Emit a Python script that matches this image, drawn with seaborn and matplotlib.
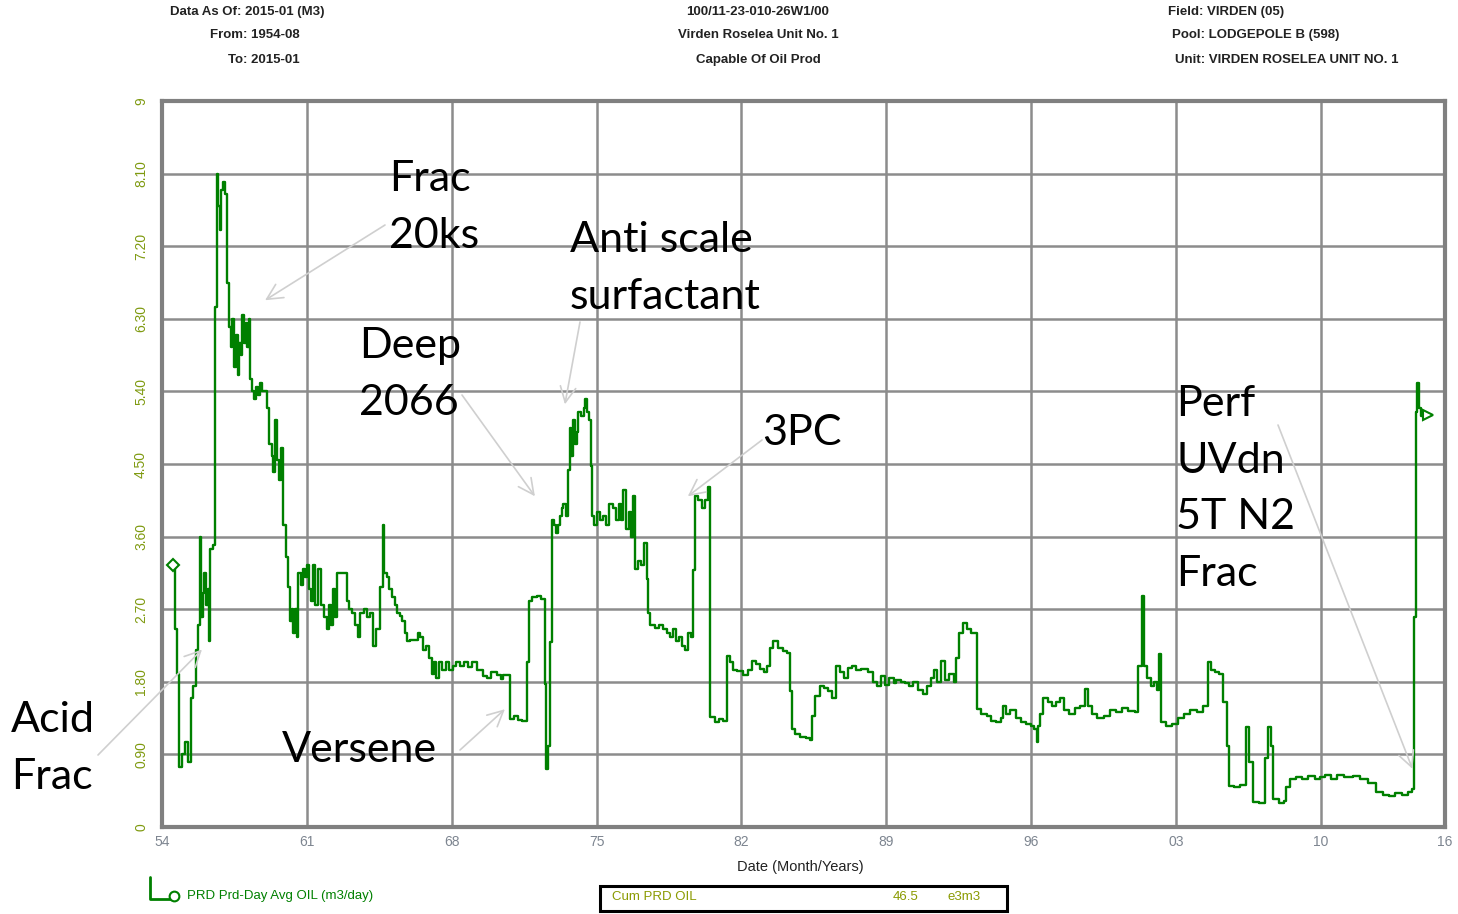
import matplotlib
matplotlib.use('Agg')

import numpy as np
import pandas as pd
import matplotlib.pyplot as plt
import seaborn as sns
from matplotlib.patches import Rectangle
from matplotlib.lines import Line2D

# production history (decimal year, m3/day), step changes
prod_years = [
    1954.55, 1954.63, 1954.72, 1954.80, 1954.95, 1955.10, 1955.25, 1955.40, 1955.51, 1955.62,
    1955.72, 1955.84, 1955.90, 1955.98, 1956.05, 1956.12, 1956.20, 1956.27, 1956.33, 1956.45,
    1956.56, 1956.64, 1956.72, 1956.80, 1956.86, 1956.95, 1957.03, 1957.12, 1957.25, 1957.33,
    1957.40, 1957.48, 1957.56, 1957.65, 1957.72, 1957.80, 1957.88, 1957.95, 1958.05, 1958.12,
    1958.20, 1958.25, 1958.35, 1958.45, 1958.55, 1958.65, 1958.75, 1958.85, 1959.06, 1959.15,
    1959.30, 1959.38, 1959.46, 1959.55, 1959.65, 1959.75, 1959.86, 1960.00, 1960.10, 1960.18,
    1960.28, 1960.35, 1960.45, 1960.52, 1960.59, 1960.70, 1960.80, 1960.90, 1961.00, 1961.10,
    1961.20, 1961.30, 1961.40, 1961.55, 1961.70, 1961.85, 1961.96, 1962.05, 1962.15, 1962.25,
    1962.35, 1962.45, 1962.80, 1962.92, 1963.05, 1963.20, 1963.35, 1963.45, 1963.57, 1963.75,
    1963.90, 1964.05, 1964.20, 1964.35, 1964.53, 1964.66, 1964.72, 1964.85, 1964.95, 1965.10,
    1965.25, 1965.34, 1965.50, 1965.60, 1965.74, 1965.85, 1966.00, 1966.20, 1966.35, 1966.46,
    1966.60, 1966.75, 1966.90, 1967.03, 1967.15, 1967.25, 1967.40, 1967.55, 1967.70, 1967.85,
    1968.07, 1968.20, 1968.40, 1968.60, 1968.80, 1969.00, 1969.20, 1969.36, 1969.50, 1969.70,
    1969.90, 1970.20, 1970.40, 1970.49, 1970.81, 1971.00, 1971.20, 1971.40, 1971.62, 1971.75,
    1971.90, 1972.10, 1972.30, 1972.50, 1972.58, 1972.65, 1972.74, 1972.84, 1972.95, 1973.05,
    1973.15, 1973.25, 1973.31, 1973.40, 1973.52, 1973.63, 1973.70, 1973.78, 1973.85, 1973.95,
    1974.05, 1974.11, 1974.25, 1974.38, 1974.45, 1974.52, 1974.62, 1974.71, 1974.78, 1974.90,
    1975.00, 1975.15, 1975.32, 1975.45, 1975.60, 1975.80, 1975.95, 1976.10, 1976.20, 1976.29,
    1976.40, 1976.55, 1976.65, 1976.75, 1976.85, 1977.00, 1977.15, 1977.30, 1977.42, 1977.50,
    1977.60, 1977.80, 1978.00, 1978.20, 1978.38, 1978.55, 1978.70, 1978.85, 1979.00, 1979.15,
    1979.27, 1979.40, 1979.55, 1979.64, 1979.75, 1979.90, 1980.10, 1980.25, 1980.39, 1980.47,
    1980.70, 1980.90, 1981.10, 1981.31, 1981.45, 1981.60, 1981.80, 1982.08, 1982.30, 1982.50,
    1982.70, 1982.90, 1983.10, 1983.25, 1983.37, 1983.55, 1983.75, 1984.00, 1984.20, 1984.34,
    1984.45, 1984.60, 1984.85, 1985.10, 1985.30, 1985.39, 1985.55, 1985.80, 1986.00, 1986.20,
    1986.40, 1986.59, 1986.75, 1986.95, 1987.15, 1987.35, 1987.55, 1987.80, 1988.10, 1988.36,
    1988.55, 1988.75, 1988.95, 1989.15, 1989.35, 1989.49, 1989.70, 1989.90, 1990.10, 1990.30,
    1990.55, 1990.78, 1990.95, 1991.15, 1991.30, 1991.45, 1991.65, 1991.85, 1992.05, 1992.25,
    1992.39, 1992.50, 1992.71, 1992.90, 1993.10, 1993.39, 1993.60, 1993.85, 1994.05, 1994.30,
    1994.55, 1994.64, 1994.80, 1995.00, 1995.25, 1995.50, 1995.75, 1996.00, 1996.15, 1996.26,
    1996.35, 1996.45, 1996.57, 1996.80, 1997.00, 1997.20, 1997.40, 1997.60, 1997.85, 1998.10,
    1998.35, 1998.59, 1998.75, 1998.95, 1999.20, 1999.50, 1999.80, 2000.10, 2000.40, 2000.70,
    2001.00, 2001.17, 2001.35, 2001.45, 2001.60, 2001.80, 2001.95, 2002.10, 2002.18, 2002.29,
    2002.50, 2002.80, 2003.10, 2003.40, 2003.70, 2004.00, 2004.30, 2004.55, 2004.70, 2004.90,
    2005.10, 2005.27, 2005.46, 2005.56, 2005.80, 2006.10, 2006.37, 2006.55, 2006.72, 2007.00,
    2007.29, 2007.45, 2007.58, 2007.69, 2008.00, 2008.20, 2008.33, 2008.50, 2008.80, 2009.10,
    2009.40, 2009.70, 2009.94, 2010.20, 2010.50, 2010.80, 2011.10, 2011.55, 2011.90, 2012.30,
    2012.68, 2013.00, 2013.30, 2013.60, 2013.90, 2014.20, 2014.42, 2014.48, 2014.61, 2014.66,
    2014.72, 2014.85, 2015.08,
]
prod_rate = [
    3.25, 2.45, 1.90, 0.75, 0.90, 1.05, 0.80, 1.60, 1.75, 2.20,
    2.50, 3.60, 2.60, 2.90, 3.15, 2.75, 2.95, 2.30, 3.45, 3.50,
    6.45, 8.10, 7.70, 7.40, 7.90, 8.00, 7.85, 6.75, 6.20, 5.95,
    6.30, 5.70, 6.10, 5.60, 6.00, 5.85, 6.35, 6.00, 6.25, 5.95,
    6.30, 5.55, 5.40, 5.30, 5.45, 5.35, 5.50, 5.40, 5.20, 4.75,
    4.60, 4.40, 5.05, 4.55, 4.30, 4.70, 3.75, 3.35, 2.98, 2.55,
    2.70, 2.40, 2.70, 2.35, 3.15, 3.00, 3.20, 3.10, 3.25, 2.95,
    2.80, 3.25, 2.75, 3.20, 2.75, 2.60, 2.45, 2.75, 2.50, 2.95,
    2.60, 3.15, 3.15, 2.80, 2.70, 2.65, 2.50, 2.35, 2.65, 2.70,
    2.60, 2.65, 2.25, 2.45, 2.98, 3.75, 3.15, 3.10, 2.95, 2.85,
    2.75, 2.65, 2.62, 2.55, 2.40, 2.30, 2.32, 2.32, 2.40, 2.36,
    2.20, 2.25, 2.10, 1.90, 2.05, 1.85, 2.05, 1.95, 2.05, 1.95,
    2.00, 2.05, 2.00, 2.05, 1.98, 2.05, 1.95, 1.95, 1.87, 1.85,
    1.92, 1.88, 1.83, 1.88, 1.34, 1.37, 1.33, 1.31, 2.04, 2.80,
    2.85, 2.86, 2.83, 1.77, 0.72, 1.00, 2.29, 3.81, 3.75, 3.65,
    3.75, 3.85, 3.95, 4.00, 3.85, 4.43, 4.95, 4.60, 5.05, 4.75,
    4.90, 5.15, 5.10, 5.20, 5.30, 5.15, 5.05, 4.47, 3.85, 3.75,
    3.90, 3.80, 3.85, 3.75, 4.00, 3.95, 3.80, 4.00, 3.80, 4.18,
    3.70, 3.90, 3.60, 4.10, 3.20, 3.30, 3.25, 3.52, 3.07, 2.65,
    2.50, 2.47, 2.50, 2.45, 2.40, 2.35, 2.45, 2.30, 2.35, 2.25,
    2.20, 2.40, 2.35, 3.19, 4.10, 4.05, 3.95, 4.05, 4.22, 1.36,
    1.30, 1.34, 1.32, 2.12, 2.05, 1.95, 1.93, 1.88, 1.95, 2.06,
    2.02, 1.96, 1.92, 2.00, 2.22, 2.30, 2.22, 2.18, 2.16, 1.68,
    1.21, 1.15, 1.12, 1.10, 1.08, 1.37, 1.62, 1.75, 1.72, 1.68,
    1.60, 2.00, 1.92, 1.85, 1.97, 2.00, 1.95, 1.96, 1.92, 1.80,
    1.75, 1.87, 1.76, 1.85, 1.78, 1.82, 1.80, 1.78, 1.75, 1.80,
    1.70, 1.65, 1.75, 1.85, 1.95, 1.80, 2.06, 1.82, 1.90, 1.80,
    2.10, 2.41, 2.53, 2.45, 2.41, 1.46, 1.40, 1.38, 1.32, 1.30,
    1.35, 1.50, 1.40, 1.45, 1.35, 1.30, 1.28, 1.25, 1.22, 1.05,
    1.25, 1.40, 1.60, 1.55, 1.50, 1.55, 1.60, 1.45, 1.40, 1.48,
    1.50, 1.71, 1.50, 1.40, 1.35, 1.38, 1.45, 1.42, 1.47, 1.44,
    1.42, 2.00, 2.86, 2.00, 1.85, 1.75, 1.80, 1.70, 2.14, 1.30,
    1.25, 1.28, 1.35, 1.40, 1.45, 1.42, 1.50, 2.04, 1.95, 1.92,
    1.90, 1.55, 1.00, 0.51, 0.50, 0.52, 1.24, 0.80, 0.31, 0.30,
    0.85, 1.24, 1.00, 0.35, 0.30, 0.32, 0.50, 0.60, 0.62, 0.60,
    0.63, 0.60, 0.62, 0.64, 0.60, 0.65, 0.62, 0.63, 0.60, 0.55,
    0.43, 0.40, 0.38, 0.42, 0.40, 0.43, 0.47, 2.60, 5.15, 5.50,
    5.20, 5.10, 5.11,
]

x_tick_years = [1954, 1961, 1968, 1975, 1982, 1989, 1996, 2003, 2010, 2016]
x_tick_labels = ['54', '61', '68', '75', '82', '89', '96', '03', '10', '16']
y_tick_values = [0, 0.9, 1.8, 2.7, 3.6, 4.5, 5.4, 6.3, 7.2, 8.1, 9]
y_tick_labels = ['0', '0.90', '1.80', '2.70', '3.60', '4.50', '5.40', '6.30', '7.20', '8.10', '9']

# (text, text top-left in px, arrow start in px, arrow tip in data coords)
notes = [
    ('Frac\n20ks', (389, 160), (385, 225), (1958.98, 6.53)),
    ('Anti scale\nsurfactant', (570, 221), (580, 322), (1973.47, 5.24)),
    ('Deep\n2066', (359, 327), (462, 395), (1972.02, 4.10)),
    ('3PC', (762, 414), (762, 440), (1979.41, 4.10)),
    ('Perf\nUVdn\n5T N2\nFrac', (1176, 385), (1278, 425), (2014.43, 0.72)),
    ('Acid\nFrac', (11, 701), (98, 755), (1955.93, 2.20)),
    ('Versene', (282, 731), (460, 750), (1970.57, 1.46)),
]

W, H = 1458, 914
GREEN = '#008000'

df = pd.DataFrame({'year': prod_years, 'rate': prod_rate})

sns.set_theme(style='white')
plt.rcParams['font.family'] = ['Liberation Sans', 'DejaVu Sans']

fig = plt.figure(figsize=(W / 100, H / 100), dpi=100)
ax = fig.add_axes([162 / W, 1 - 827 / H, (1445 - 162) / W, (827 - 101) / H])

sns.lineplot(data=df, x='year', y='rate', ax=ax, color=GREEN, lw=1.7,
             drawstyle='steps-post', estimator=None, sort=False)
ax.plot(prod_years[0], prod_rate[0], marker='D', ms=6, mfc='white', mec=GREEN, mew=1.5)
ax.plot(prod_years[-1] + 0.1, prod_rate[-1], marker='>', ms=7, mfc='white', mec=GREEN, mew=1.5)

ax.set_xlim(1954, 2016)
ax.set_ylim(0, 9)
ax.set_xticks(x_tick_years)
ax.set_xticklabels(x_tick_labels, color='#7d8590', fontsize=10)
ax.set_xticks(np.arange(1954, 2017), minor=True)
ax.set_yticks(y_tick_values)
ax.set_yticklabels(y_tick_labels, color='#7f9a10', fontsize=10, rotation=90, va='center')
ax.tick_params(axis='x', which='major', length=0, pad=6)
ax.tick_params(axis='x', which='minor', direction='in', length=4, width=1.2, color='#808080')
ax.tick_params(axis='y', length=0, pad=10)
ax.grid(True, which='major', color='#8c8c8c', lw=1.8)
for s in ax.spines.values():
    s.set_color('#808080')
    s.set_linewidth(3)
ax.set_xlabel('Date (Month/Years)', fontsize=10.5, color='#222222', labelpad=12)
ax.xaxis.set_label_coords((800 - 162) / (1445 - 162), -0.045)
ax.set_ylabel('')

# header block
def ftext(px, py, s, color='#222222', **kw):
    return fig.text(px / W, 1 - py / H, s, va='center', fontsize=9.5, color=color, **kw)

ftext(170, 12, 'Data As Of: 2015-01 (M3)', weight='bold')
ftext(210, 35, 'From: 1954-08', weight='bold')
ftext(228, 60, 'To: 2015-01', weight='bold')
ftext(758, 12, '100/11-23-010-26W1/00', ha='center', weight='bold')
ftext(758, 35, 'Virden Roselea Unit No. 1', ha='center', weight='bold')
ftext(758, 60, 'Capable Of Oil Prod', ha='center', weight='bold')
ftext(1168, 12, 'Field: VIRDEN (05)', weight='bold')
ftext(1172, 35, 'Pool: LODGEPOLE B (598)', weight='bold')
ftext(1175, 60, 'Unit: VIRDEN ROSELEA UNIT NO. 1', weight='bold')

# event annotations
for label, (tx, ty), (sx, sy), tip in notes:
    fig.text(tx / W, 1 - ty / H, label, ha='left', va='top', fontsize=31,
             family=['Lato', 'DejaVu Sans'], color='black', linespacing=1.6)
    ax.annotate('', xy=tip, xycoords='data', xytext=(sx, H - sy), textcoords='figure pixels',
                arrowprops=dict(arrowstyle='->', color='#cfcfcf', lw=1.2,
                                mutation_scale=28, shrinkA=0, shrinkB=0),
                annotation_clip=False)

# legend at the bottom
fig.add_artist(Line2D([150 / W, 150 / W, 172 / W], [1 - 877 / H, 1 - 899 / H, 1 - 899 / H],
                      color=GREEN, lw=2))
fig.add_artist(Line2D([174 / W], [1 - 896 / H], marker='o', ms=7, mfc='white', mec=GREEN, mew=1.5))
ftext(187, 896, 'PRD Prd-Day Avg OIL (m3/day)', color=GREEN)

fig.add_artist(Rectangle((600 / W, 1 - 911 / H), 407 / W, 25 / H, fill=False, ec='black', lw=2.2))
ftext(612, 897, 'Cum PRD OIL', color='#8a9a00')
ftext(893, 897, '46.5', color='#8a9a00')
ftext(948, 897, 'e3m3', color='#8a9a00')

fig.savefig('out.png', dpi=100)
